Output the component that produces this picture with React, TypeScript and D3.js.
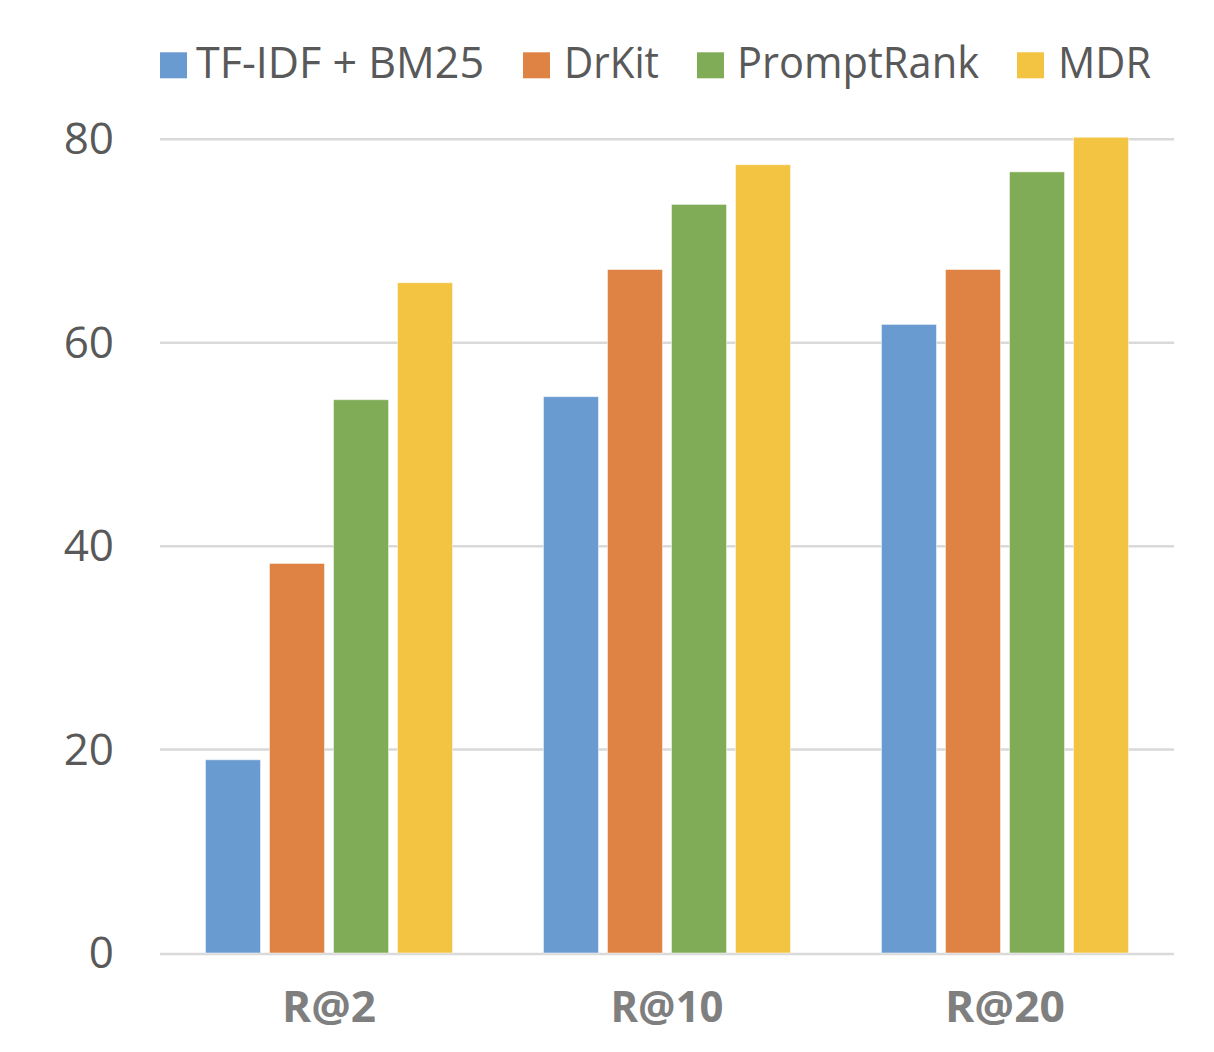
// App.tsx

import React, { useEffect, useRef } from "react";
import * as d3 from "d3";

const categories = ["R@2", "R@10", "R@20"];
const seriesNames = ["TF-IDF + BM25", "DrKit", "PromptRank", "MDR"];
const seriesColors = ["#6A9BD0", "#DF8344", "#80AB57", "#F3C342"];

const tfidfValues = [19.0, 54.7, 61.8];
const drkitValues = [38.3, 67.2, 67.2];
const promptRankValues = [54.4, 73.6, 76.8];
const mdrValues = [65.9, 77.5, 80.2];

const yTicks = [0, 20, 40, 60, 80];

// legend label placement (narrow font)
const legendTextWidths = [288, 95, 242, 93];
const legendSquareX = [160, 523, 697, 1017];
const legendTextOffset = [36, 41, 40, 41];
const categoryTextWidths = [94, 113, 120];

const App: React.FC = () => {
  const svgRef = useRef<SVGSVGElement | null>(null);

  useEffect(() => {
    const svgWidth = 1214;
    const svgHeight = 1052;
    const left = 160;
    const right = 1174;
    const top = 139.3;
    const bottom = 953;

    const svg = d3.select(svgRef.current);
    svg.selectAll("*").remove();
    svg.attr("width", svgWidth).attr("height", svgHeight);

    const values = [tfidfValues, drkitValues, promptRankValues, mdrValues];
    const fontFamily = "'Open Sans', 'Noto Sans', sans-serif";

    const xScale = d3
      .scaleBand()
      .domain(categories)
      .range([left, right])
      .paddingInner(0.269)
      .paddingOuter(0.1345);

    const innerScale = d3
      .scaleBand()
      .domain(seriesNames)
      .range([0, xScale.bandwidth()])
      .paddingInner(0.14)
      .paddingOuter(0);

    const yScale = d3.scaleLinear().domain([0, 80]).range([bottom, top]);

    // gridlines
    svg
      .append("g")
      .selectAll("line")
      .data(yTicks)
      .enter()
      .append("line")
      .attr("x1", left)
      .attr("x2", right)
      .attr("y1", (d) => yScale(d) + (d === 0 ? 1 : 0))
      .attr("y2", (d) => yScale(d) + (d === 0 ? 1 : 0))
      .attr("stroke", "#D9D9D9")
      .attr("stroke-width", 2.5);

    // y tick labels
    svg
      .append("g")
      .selectAll("text")
      .data(yTicks)
      .enter()
      .append("text")
      .attr("x", 114)
      .attr("y", (d) => yScale(d) + 15)
      .attr("text-anchor", "end")
      .attr("fill", "#595959")
      .style("font-family", fontFamily)
      .style("font-size", "44px")
      .text((d) => d);

    // bars
    const groups = svg
      .append("g")
      .selectAll("g")
      .data(categories)
      .enter()
      .append("g")
      .attr("transform", (d) => `translate(${xScale(d)}, 0)`);

    groups
      .selectAll("rect")
      .data((cat, ci) =>
        seriesNames.map((name, si) => ({ name, si, value: values[si][ci] }))
      )
      .enter()
      .append("rect")
      .attr("x", (d) => innerScale(d.name) as number)
      .attr("y", (d) => yScale(d.value))
      .attr("width", innerScale.bandwidth())
      .attr("height", (d) => bottom - yScale(d.value))
      .attr("fill", (d) => seriesColors[d.si])
      .attr("stroke", "#FFFFFF")
      .attr("stroke-opacity", 0.5)
      .attr("stroke-width", 1);

    // category labels
    svg
      .append("g")
      .selectAll("text")
      .data(categories)
      .enter()
      .append("text")
      .attr("x", (d, i) => (xScale(d) as number) + xScale.bandwidth() / 2 - categoryTextWidths[i] / 2)
      .attr("y", 1022)
      .attr("textLength", (d, i) => categoryTextWidths[i])
      .attr("lengthAdjust", "spacingAndGlyphs")
      .attr("fill", "#7F7F7F")
      .style("font-family", fontFamily)
      .style("font-weight", "700")
      .style("font-size", "43px")
      .text((d) => d);

    // legend
    const legend = svg
      .append("g")
      .selectAll("g")
      .data(seriesNames)
      .enter()
      .append("g")
      .attr("transform", (d, i) => `translate(${legendSquareX[i]}, 0)`);

    legend
      .append("rect")
      .attr("x", 0)
      .attr("y", 52.3)
      .attr("width", 27)
      .attr("height", 26)
      .attr("fill", (d, i) => seriesColors[i]);

    legend
      .append("text")
      .attr("x", (d, i) => legendTextOffset[i])
      .attr("y", 78.3)
      .attr("textLength", (d, i) => legendTextWidths[i])
      .attr("lengthAdjust", "spacingAndGlyphs")
      .attr("fill", "#595959")
      .style("font-family", fontFamily)
      .style("font-size", "44px")
      .text((d) => d);
  }, []);

  return (
    <div style={{ position: "absolute", left: 0, top: 0 }}>
      <svg ref={svgRef} style={{ display: "block" }}></svg>
    </div>
  );
};

export default App;
